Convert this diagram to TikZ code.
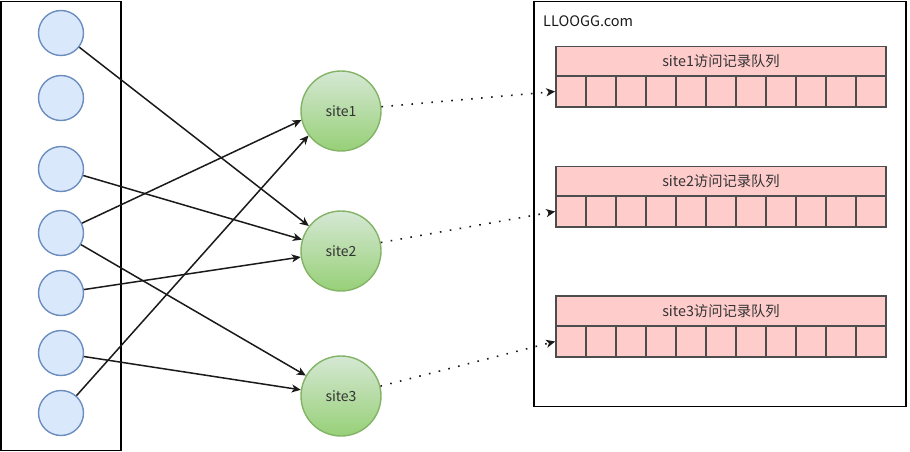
\documentclass[tikz,border=0pt]{standalone}
\usepackage{fontspec}
\setmainfont{Noto Sans CJK SC}
\usetikzlibrary{arrows.meta}
\definecolor{bfill}{HTML}{DAE8FC}
\definecolor{bline}{HTML}{6C8EBF}
\definecolor{gtop}{HTML}{D5E8D4}
\definecolor{gbot}{HTML}{97D077}
\definecolor{gline}{HTML}{82B366}
\definecolor{pfill}{HTML}{FFCCCC}
\definecolor{pline}{HTML}{4D4D4D}
\definecolor{txt}{HTML}{333333}
\definecolor{arr}{HTML}{1A1A1A}
\tikzset{
  bcirc/.style={circle, draw=bline, fill=bfill, line width=1.4pt, minimum size=45pt, inner sep=0pt},
  gcirc/.style={circle, draw=gline, top color=gtop, bottom color=gbot, line width=1.4pt, minimum size=80pt, inner sep=0pt, text=txt, font=\fontsize{14}{16}\selectfont},
  container/.style={draw=black, line width=1.6pt, inner sep=0pt},
  qhead/.style={draw=pline, fill=pfill, line width=1.6pt, minimum width=330pt, minimum height=30pt, inner sep=0pt, text=txt, font=\fontsize{14.3}{16}\selectfont},
  qcell/.style={draw=pline, fill=pfill, line width=1.6pt, minimum width=30pt, minimum height=30.5pt, inner sep=0pt},
  link/.style={draw=arr, line width=1.5pt, -{Stealth[length=9pt,width=8pt,inset=2.5pt]}},
  dlink/.style={draw=arr, line width=1.6pt, dash pattern=on 1.6pt off 8.4pt, -{Stealth[length=9pt,width=8pt,inset=2.5pt]}}
}
\begin{document}
\begin{tikzpicture}[x=1pt,y=-1pt]
\useasboundingbox (0,0) rectangle (910,452);
% left container
\node[container, minimum width=120pt, minimum height=449pt] (lbox) at (61,226) {};
% right container
\node[container, minimum width=372pt, minimum height=405pt] (rbox) at (720,204) {};
\node[anchor=west, text=arr, font=\fontsize{14.5}{16}\selectfont, inner sep=0pt] (title) at (543,21) {LLOOGG.com};
% blue circles
\node[bcirc] (c1) at (61,33) {};
\node[bcirc] (c2) at (61,98) {};
\node[bcirc] (c3) at (61,169) {};
\node[bcirc] (c4) at (61,233) {};
\node[bcirc] (c5) at (61,293) {};
\node[bcirc] (c6) at (61,353) {};
\node[bcirc] (c7) at (61,413) {};
% green circles
\node[gcirc] (s1) at (341,111) {site1};
\node[gcirc] (s2) at (341,251) {site2};
\node[gcirc] (s3) at (341,396) {site3};
% queues
\node[qhead] (h1) at (721,61.5) {site1访问记录队列};
\node[qhead] (h2) at (721,181.5) {site2访问记录队列};
\node[qhead] (h3) at (721,311) {site3访问记录队列};
\foreach \i in {0,...,10} {
  \node[qcell] (qa\i) at (571+30*\i,91.5) {};
  \node[qcell] (qb\i) at (571+30*\i,211.5) {};
  \node[qcell] (qc\i) at (571+30*\i,341.5) {};
}
% links
\draw[link] (c1) -- (s2);
\draw[link] (c3) -- (s2);
\draw[link] (c4) -- (s1.193);
\draw[link] (c4) -- (s3);
\draw[link] (c5) -- (s2);
\draw[link] (c6) -- (s3);
\draw[link] (c7) -- (s1.217);
% dotted links
\draw[dlink] (s1.6) -- (qa0.west);
\draw[dlink] (s2.12) -- (qb0.west);
\draw[dlink] (s3.14) -- (qc0.west);
\end{tikzpicture}
\end{document}
